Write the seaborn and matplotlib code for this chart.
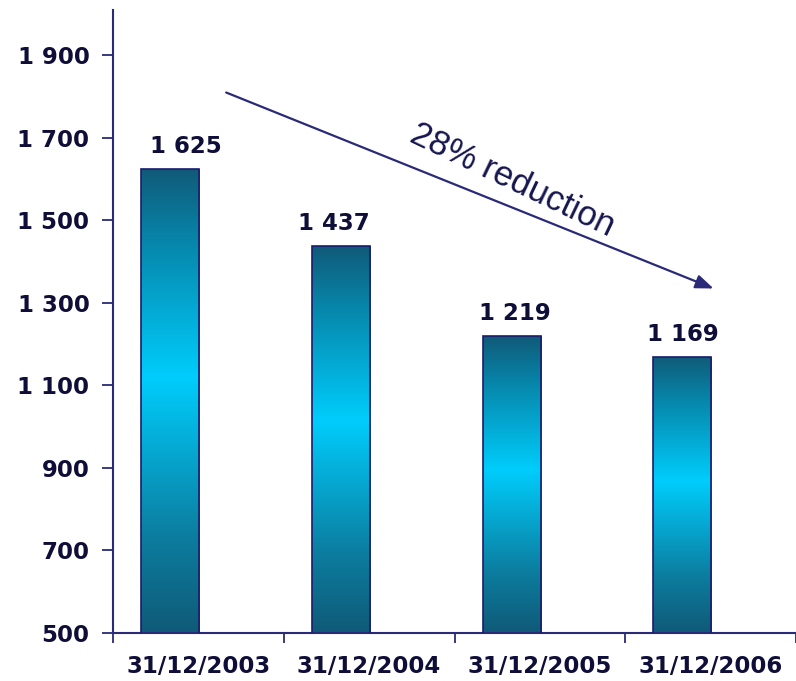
import numpy as np
import pandas as pd
import matplotlib
matplotlib.use("Agg")
import matplotlib.pyplot as plt
import seaborn as sns
from matplotlib.colors import LinearSegmentedColormap

# Data
dates = ["31/12/2003", "31/12/2004", "31/12/2005", "31/12/2006"]
values = [1625, 1437, 1219, 1169]
value_labels = ["1 625", "1 437", "1 219", "1 169"]
y_ticks = [500, 700, 900, 1100, 1300, 1500, 1700, 1900]
y_tick_labels = ["500", "700", "900", "1 100", "1 300", "1 500", "1 700", "1 900"]
trend_label = "28% reduction"

df = pd.DataFrame({"date": dates, "value": values})

# Styling
NAVY = "#2a2a78"
TEXT = "#0e0e38"
Y_MIN, Y_MAX = 500, 2010
BAR_SHIFT = -0.165
label_dx_pt = [11, -5, 2, 0]

sns.set_theme(style="white")
plt.rcParams["font.family"] = ["DejaVu Sans"]

fig = plt.figure(figsize=(7.96, 6.81), dpi=100)
ax = fig.add_axes([113 / 796, 48 / 681, 1 - 113 / 796, 623 / 681])

sns.barplot(data=df, x="date", y="value", width=0.34, color="#00ccff",
            saturation=1, ax=ax, zorder=2)

ax.set_ylim(Y_MIN, Y_MAX)
ax.set_xlim(-0.5, 3.47)

# Vertical gradient: dark teal at the ends, bright cyan in the middle
grad_cmap = LinearSegmentedColormap.from_list(
    "teal_cyan",
    [(0.0, "#105a78"), (0.2, "#0c7c9e"), (0.55, "#00cdfc"),
     (0.85, "#0784a8"), (1.0, "#105a78")])
grad = np.linspace(0, 1, 256).reshape(-1, 1)

for p in ax.patches:
    p.set_x(p.get_x() + BAR_SHIFT)
    x0, w, top = p.get_x(), p.get_width(), p.get_y() + p.get_height()
    img = ax.imshow(grad, cmap=grad_cmap, aspect="auto",
                    extent=[x0, x0 + w, top, Y_MIN], origin="upper",
                    zorder=2, interpolation="bilinear")
    img.set_clip_path(p)
    p.set_facecolor("none")
    p.set_edgecolor("#1c1c6e")
    p.set_linewidth(1.2)
    p.set_zorder(3)

# Value labels above the bars
for p, txt, dx in zip(ax.patches, value_labels, label_dx_pt):
    ax.annotate(txt, (p.get_x() + p.get_width() / 2, p.get_y() + p.get_height()),
                xytext=(dx, 8), textcoords="offset points", ha="center",
                va="bottom", fontsize=16.5, fontweight="bold", color=TEXT)

# Axes
sns.despine(ax=ax, top=True, right=True)
for side in ("left", "bottom"):
    ax.spines[side].set_color(NAVY)
    ax.spines[side].set_linewidth(1.5)

ax.set_yticks(y_ticks)
ax.set_yticklabels(y_tick_labels, fontsize=16.5, fontweight="bold", color=TEXT)
ax.tick_params(axis="y", direction="out", length=8, width=1.3, color=NAVY,
               pad=9, left=True)

ax.set_xticks(range(len(dates)))
ax.set_xticklabels(dates, fontsize=16.5, fontweight="bold", color=TEXT)
ax.set_xticks([-0.5, 0.5, 1.5, 2.5, 3.5], minor=True)
ax.tick_params(axis="x", which="major", length=0, pad=16)
ax.tick_params(axis="x", which="minor", direction="out", length=7, width=1.3,
               color=NAVY, bottom=True)
ax.set_xlabel("")
ax.set_ylabel("")
ax.grid(False)

# Trend arrow with annotation
ax.annotate("", xy=(3.017, 1335), xytext=(0.163, 1810),
            arrowprops=dict(arrowstyle="-|>,head_length=0.9,head_width=0.35",
                            color=NAVY, lw=1.6, shrinkA=0, shrinkB=0))
ax.text(1.84, 1597, trend_label, rotation=-25.5, rotation_mode="anchor",
        ha="center", va="center", fontsize=25, color="#16164e",
        family=["Liberation Sans", "DejaVu Sans"])

fig.savefig("out.png", dpi=100)
